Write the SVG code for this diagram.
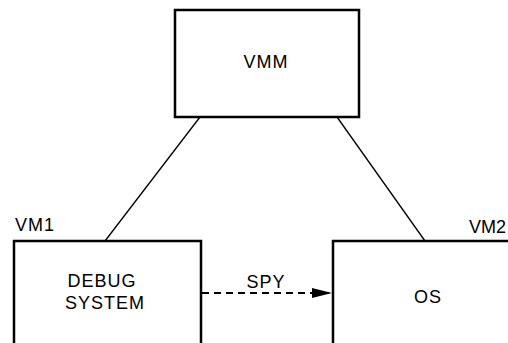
<svg xmlns="http://www.w3.org/2000/svg" width="508" height="343" viewBox="0 0 508 343">
<style>
.box{fill:#fff;stroke:#000;stroke-width:2.5}
.t{font-family:"Liberation Sans",Arial,sans-serif;font-size:18px;fill:#000;letter-spacing:1px}
.c{stroke:#000;stroke-width:1.3;fill:none}
.d{stroke:#000;stroke-width:2;fill:none;stroke-dasharray:7,5}
</style>
<defs>
<marker id="ah" markerWidth="20" markerHeight="10" refX="20" refY="5" orient="auto" markerUnits="userSpaceOnUse">
<path d="M0,0 L20,5 L0,10 Z" fill="#000"/>
</marker>
</defs>
<g id="connectors">
<line class="c" x1="200" y1="117" x2="105" y2="241"/>
<line class="c" x1="337" y1="117" x2="425" y2="241"/>
<line class="d" x1="202" y1="293" x2="332" y2="293" marker-end="url(#ah)"/>
<text class="t" x="266" y="288" text-anchor="middle">SPY</text>
</g>
<g id="vmm">
<rect class="box" x="175" y="10" width="184" height="107"/>
<text class="t" x="266" y="68" text-anchor="middle">VMM</text>
</g>
<g id="vm1">
<text class="t" x="15" y="231">VM1</text>
<rect class="box" x="14" y="241" width="187" height="110"/>
<text class="t" x="102" y="287" text-anchor="middle">DEBUG</text>
<text class="t" x="105" y="309" text-anchor="middle">SYSTEM</text>
</g>
<g id="vm2">
<text class="t" x="469" y="233" style="letter-spacing:0">VM2</text>
<rect class="box" x="333" y="241" width="190" height="110"/>
<text class="t" x="428" y="303" text-anchor="middle">OS</text>
</g>
</svg>
